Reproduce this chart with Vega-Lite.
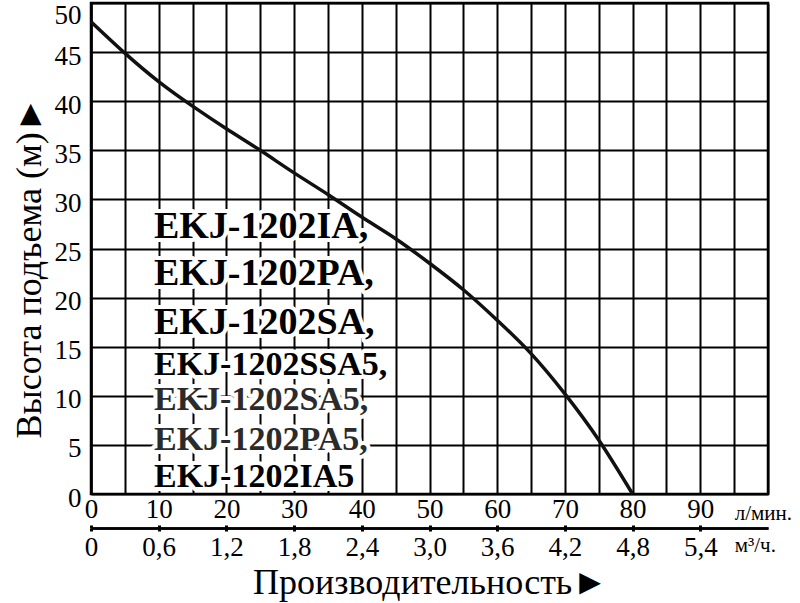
{
  "$schema": "https://vega.github.io/schema/vega-lite/v6.json",
  "width": 677,
  "height": 491,
  "autosize": "none",
  "padding": {"left": 91, "top": 3, "right": 32, "bottom": 109},
  "background": "white",
  "config": {
    "view": {"stroke": "black", "strokeWidth": 2.5},
    "axis": {"labelFont": "Liberation Serif", "titleFont": "Liberation Serif", "labelColor": "black", "titleColor": "black", "titleFontWeight": "normal"},
    "axisY": {"grid": true, "gridColor": "black", "gridWidth": 2, "gridOpacity": 1, "domainColor": "black", "domainWidth": 2.5, "ticks": false,
      "labelFont": "Liberation Serif", "titleFont": "Liberation Serif", "labelFontSize": 27, "labelPadding": 10,
      "labelOffset": {"condition": {"test": "datum.value == 50", "value": 12}, "value": 4},
      "titleFontSize": 36, "titleAngle": 270, "titleX": -51, "titleY": 264, "titleAlign": "center", "titleBaseline": "alphabetic", "tickCount": 10}
  },
  "datasets": {
    "curve": [
      {"q": 0, "h": 48.1}, {"q": 5, "h": 44.9}, {"q": 10, "h": 42.0}, {"q": 15, "h": 39.5},
      {"q": 20, "h": 37.2}, {"q": 25, "h": 35.0}, {"q": 30, "h": 32.7}, {"q": 35, "h": 30.5},
      {"q": 40, "h": 28.2}, {"q": 45, "h": 26.0}, {"q": 50, "h": 23.5}, {"q": 55, "h": 20.8},
      {"q": 60, "h": 17.7}, {"q": 65, "h": 14.3}, {"q": 70, "h": 10.2}, {"q": 75, "h": 5.5},
      {"q": 80, "h": 0}
    ],
    "labels": [
      {"label": "EKJ-1202IA,", "q": 9.3, "h": 26.07, "grp": "a"},
      {"label": "EKJ-1202PA,", "q": 9.3, "h": 21.28, "grp": "a"},
      {"label": "EKJ-1202SA,", "q": 9.3, "h": 16.29, "grp": "a"},
      {"label": "EKJ-1202SSA5,", "q": 9.3, "h": 12.12, "grp": "b"},
      {"label": "EKJ-1202SA5,", "q": 9.3, "h": 8.55, "grp": "c"},
      {"label": "EKJ-1202PA5,", "q": 9.3, "h": 4.48, "grp": "c"},
      {"label": "EKJ-1202IA5", "q": 9.3, "h": 0.71, "grp": "b"}
    ]
  },
  "resolve": {"axis": {"x": "independent"}},
  "layer": [
    {
      "data": {"name": "labels"},
      "transform": [{"filter": "datum.grp == 'a'"}],
      "mark": {"type": "text", "font": "Liberation Serif", "fontWeight": "bold", "fontSize": 38, "align": "left", "baseline": "alphabetic", "fill": "white", "stroke": "white", "strokeWidth": 8, "strokeJoin": "round"},
      "encoding": {
        "x": {"field": "q", "type": "quantitative", "scale": {"domain": [0, 100], "nice": false}, "axis": null},
        "y": {"field": "h", "type": "quantitative", "scale": {"domain": [0, 50], "nice": false}, "title": "Высота подъема (м)►"},
        "text": {"field": "label"}
      }
    },
    {
      "data": {"name": "labels"},
      "transform": [{"filter": "datum.grp != 'a'"}],
      "mark": {"type": "text", "font": "Liberation Serif", "fontWeight": "bold", "fontSize": 34, "align": "left", "baseline": "alphabetic", "fill": "white", "stroke": "white", "strokeWidth": 8, "strokeJoin": "round"},
      "encoding": {
        "x": {"field": "q", "type": "quantitative", "scale": {"domain": [0, 100], "nice": false}, "axis": null},
        "y": {"field": "h", "type": "quantitative", "scale": {"domain": [0, 50], "nice": false}, "title": "Высота подъема (м)►"},
        "text": {"field": "label"}
      }
    },
    {
      "data": {"name": "labels"},
      "transform": [{"filter": "datum.grp == 'a'"}],
      "mark": {"type": "text", "font": "Liberation Serif", "fontWeight": "bold", "fontSize": 38, "align": "left", "baseline": "alphabetic", "color": "black"},
      "encoding": {
        "x": {"field": "q", "type": "quantitative", "scale": {"domain": [0, 100], "nice": false},
          "axis": {"orient": "top", "offset": -525, "values": [0, 10, 20, 30, 40, 50, 60, 70, 80, 90, 95],
            "labelExpr": "datum.value == 95 ? 'л/мин.' : datum.label",
            "labelFont": "Liberation Serif",
            "labelFontSize": {"condition": {"test": "datum.value == 95", "value": 21}, "value": 27},
            "labelAlign": {"condition": {"test": "datum.value == 95", "value": "left"}, "value": "center"},
            "tickOpacity": {"condition": {"test": "datum.value == 95", "value": 0}, "value": 1},
            "labelFlush": false, "labelOverlap": false, "labelPadding": 2, "labelBound": false,
            "tickSize": 3, "tickWidth": 3, "tickColor": "black", "domainColor": "black", "domainWidth": 2.5,
            "grid": false, "title": null}},
        "y": {"field": "h", "type": "quantitative", "scale": {"domain": [0, 50], "nice": false}, "title": "Высота подъема (м)►"},
        "text": {"field": "label"}
      }
    },
    {
      "data": {"name": "labels"},
      "transform": [{"filter": "datum.grp == 'b'"}],
      "mark": {"type": "text", "font": "Liberation Serif", "fontWeight": "bold", "fontSize": 34, "align": "left", "baseline": "alphabetic", "color": "black"},
      "encoding": {
        "x": {"field": "q", "type": "quantitative", "scale": {"domain": [0, 100], "nice": false},
          "axis": {"orient": "bottom", "offset": 34, "values": [0, 10, 20, 30, 40, 50, 60, 70, 80, 90, 95],
            "labelExpr": "datum.value == 95 ? 'м³/ч.' : (datum.value == 0 ? '0' : replace(format(datum.value * 0.06, '.1f'), '.', ','))",
            "labelFont": "Liberation Serif", "titleFont": "Liberation Serif",
            "labelFontSize": {"condition": {"test": "datum.value == 95", "value": 21}, "value": 27},
            "labelAlign": {"condition": {"test": "datum.value == 95", "value": "left"}, "value": "center"},
            "tickOpacity": {"condition": {"test": "datum.value == 95", "value": 0}, "value": 1},
            "labelFlush": false, "labelOverlap": false, "labelPadding": 3, "labelBound": false,
            "tickSize": 3, "tickWidth": 3, "tickColor": "black", "domainColor": "black", "domainWidth": 2.5,
            "grid": false,
            "title": "Производительность►", "titleFontSize": 36, "titleX": 339, "titleY": 65, "titleAlign": "center", "titleBaseline": "alphabetic"}},
        "y": {"field": "h", "type": "quantitative", "scale": {"domain": [0, 50], "nice": false}, "title": "Высота подъема (м)►"},
        "text": {"field": "label"}
      }
    },
    {
      "data": {"name": "labels"},
      "transform": [{"filter": "datum.grp == 'c'"}],
      "mark": {"type": "text", "font": "Liberation Serif", "fontWeight": "bold", "fontSize": 34, "align": "left", "baseline": "alphabetic", "color": "#2b2b2b"},
      "encoding": {
        "x": {"field": "q", "type": "quantitative", "scale": {"domain": [0, 100], "nice": false}, "axis": null},
        "y": {"field": "h", "type": "quantitative", "scale": {"domain": [0, 50], "nice": false}, "title": "Высота подъема (м)►"},
        "text": {"field": "label"}
      }
    },
    {
      "data": {"name": "curve"},
      "mark": {"type": "line", "color": "#111111", "strokeWidth": 3.5, "interpolate": "natural"},
      "encoding": {
        "x": {"field": "q", "type": "quantitative", "scale": {"domain": [0, 100], "nice": false},
          "axis": {"orient": "bottom", "offset": 0, "values": [0, 5, 10, 15, 20, 25, 30, 35, 40, 45, 50, 55, 60, 65, 70, 75, 80, 85, 90, 95, 100],
            "grid": true, "gridColor": "black", "gridWidth": 2, "gridOpacity": 1,
            "domain": false, "ticks": false, "labels": false, "title": null}},
        "y": {"field": "h", "type": "quantitative", "scale": {"domain": [0, 50], "nice": false}, "title": "Высота подъема (м)►"}
      }
    }
  ]
}
